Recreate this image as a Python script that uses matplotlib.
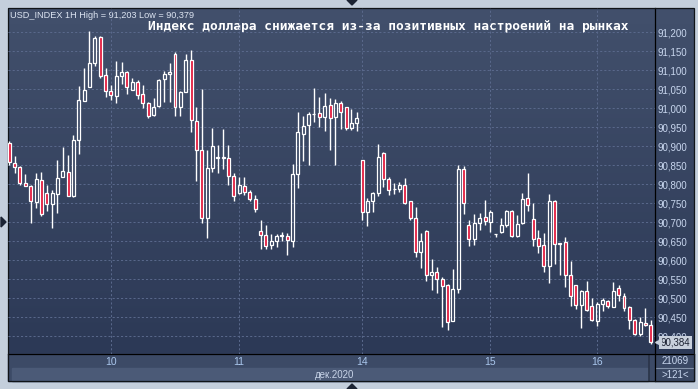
import numpy as np
import matplotlib
matplotlib.use("Agg")
from matplotlib import pyplot as plt
from matplotlib.patches import Rectangle, Polygon

plt.rcParams['lines.scale_dashes'] = False

W, H = 698, 389

# hourly candles, USD_INDEX 1H
opens = [90909, 90856, 90846, 90804, 90796, 90753, 90812, 90778, 90749, 90775,
         90820, 90833, 90769, 90917, 91019, 91056, 91118, 91187, 91087, 91046,
         91032, 91085, 91095, 91049, 91070, 91037, 91014, 90982, 91005, 91077,
         91090, 91143, 91003, 91044, 91126, 90966, 90891, 90711, 90843, 90868,
         90873, 90869, 90821, 90776, 90795, 90779, 90761, 90677, 90666, 90640,
         90651, 90665, 90665, 90652, 90827, 90932, 90955, 90984, 90987, 90976,
         91009, 90976, 91013, 91003, 90949, 90961, 90863, 90727, 90755, 90776,
         90883, 90814, 90788, 90787, 90798, 90755, 90711, 90622, 90677, 90560,
         90570, 90552, 90536, 90440, 90524, 90839, 90693, 90655, 90697, 90713,
         90702, 90668, 90674, 90692, 90729, 90664, 90697, 90764, 90708, 90659,
         90639, 90584, 90756, 90645, 90648, 90562, 90534, 90482, 90520, 90480,
         90441, 90486, 90493, 90477, 90528, 90507, 90478, 90443, 90407, 90436,
         90430]
highs = [90915, 90874, 90848, 90826, 90798, 90830, 90833, 90799, 90786, 90863,
         90897, 90876, 90931, 91058, 91105, 91203, 91190, 91189, 91106, 91060,
         91124, 91122, 91097, 91081, 91075, 91061, 91017, 91027, 91076, 91098,
         91119, 91147, 91046, 91144, 91154, 91003, 91050, 90891, 90947, 90903,
         90946, 90904, 90829, 90819, 90819, 90786, 90771, 90707, 90693, 90670,
         90670, 90674, 90673, 90854, 90989, 90980, 90990, 91053, 91030, 91039,
         91026, 91025, 91018, 91004, 90998, 90989, 90864, 90763, 90779, 90906,
         90886, 90819, 90803, 90805, 90816, 90756, 90741, 90672, 90679, 90604,
         90583, 90556, 90538, 90578, 90851, 90847, 90705, 90723, 90725, 90759,
         90733, 90669, 90711, 90733, 90733, 90719, 90778, 90830, 90751, 90681,
         90672, 90775, 90758, 90646, 90660, 90599, 90536, 90521, 90546, 90502,
         90489, 90501, 90495, 90544, 90536, 90513, 90480, 90446, 90450, 90475,
         90443]
lows = [90850, 90830, 90798, 90795, 90698, 90738, 90717, 90730, 90685, 90724,
        90818, 90768, 90766, 90881, 91018, 91055, 91110, 91081, 91029, 91022,
        91015, 91064, 91037, 91048, 91025, 91002, 90974, 90979, 91003, 91016,
        91017, 90979, 90979, 91042, 90937, 90808, 90699, 90659, 90832, 90830,
        90839, 90799, 90755, 90774, 90772, 90755, 90726, 90631, 90630, 90631,
        90635, 90650, 90613, 90634, 90789, 90860, 90852, 90963, 90952, 90941,
        90889, 90852, 90946, 90943, 90943, 90941, 90705, 90689, 90726, 90770,
        90792, 90771, 90774, 90779, 90748, 90705, 90609, 90581, 90546, 90523,
        90514, 90425, 90416, 90439, 90514, 90722, 90637, 90641, 90681, 90694,
        90674, 90660, 90673, 90688, 90662, 90662, 90695, 90730, 90637, 90618,
        90570, 90539, 90589, 90561, 90529, 90480, 90472, 90422, 90467, 90441,
        90427, 90466, 90475, 90476, 90492, 90466, 90420, 90403, 90401, 90427,
        90379]
closes = [90858, 90846, 90804, 90796, 90756, 90814, 90722, 90749, 90778, 90817,
          90835, 90770, 90917, 91023, 91048, 91119, 91184, 91084, 91045, 91035,
          91085, 91095, 91056, 91070, 91035, 91014, 90979, 91003, 91074, 91090,
          91095, 91003, 91044, 91126, 90970, 90891, 90710, 90843, 90901, 90873,
          90868, 90821, 90769, 90798, 90779, 90761, 90735, 90666, 90638, 90650,
          90665, 90666, 90654, 90827, 90937, 90953, 90984, 90986, 90976, 91005,
          90974, 91013, 90991, 90949, 90962, 90974, 90727, 90757, 90777, 90871,
          90814, 90785, 90787, 90798, 90752, 90711, 90622, 90651, 90560, 90569,
          90550, 90532, 90438, 90524, 90839, 90750, 90655, 90698, 90712, 90703,
          90727, 90668, 90692, 90730, 90664, 90695, 90761, 90745, 90657, 90638,
          90584, 90756, 90643, 90644, 90562, 90507, 90482, 90520, 90469, 90443,
          90486, 90495, 90479, 90520, 90509, 90474, 90443, 90407, 90437, 90430,
          90384]

day_idx = [19, 43, 66, 90, 110]
day_labels = ["10", "11", "14", "15", "16"]
price_ticks = list(range(90400, 91201, 50))
title = "USD_INDEX 1H High = 91,203 Low = 90,379"
headline = "Индекс доллара снижается из-за позитивных настроений на рынках"
month_label = "дек.2020"
last_price = 90384

fig = plt.figure(figsize=(W / 100, H / 100), dpi=100)
fig.patch.set_facecolor("#c4cfdc")

# background layer in pixel coordinates
bg = fig.add_axes([0, 0, 1, 1])
bg.set_xlim(0, W)
bg.set_ylim(H, 0)
bg.axis("off")

top = np.array([66, 80, 108]) / 255
bot = np.array([44, 57, 86]) / 255
t = np.linspace(0, 1, 256)[:, None, None]
grad = top + (bot - top) * t
bg.imshow(grad, extent=(8, 694, 354, 8), aspect="auto", zorder=0)

bg.add_patch(Rectangle((8, 354), 686, 27, color="#3c4a66", zorder=1))
bg.add_patch(Rectangle((12, 368), 636, 13, color="#4b5a77", zorder=1))
bg.add_patch(Rectangle((655, 354), 39, 27, color="#3a4864", zorder=1))
bg.plot([655, 694], [368, 368], color="#8392aa", lw=0.8, zorder=2)
bg.plot([649, 649], [355, 381], color="#2a3448", lw=1.2, zorder=2)
bg.plot([655, 655], [8, 381], color="black", lw=0.9, zorder=3)
bg.plot([8, 694], [354, 354], color="black", lw=0.9, zorder=3)
bg.add_patch(Rectangle((8, 8), 686, 373, fill=False, ec="#101418", lw=0.9, zorder=3))

# little navigation triangles
for pts in ([[347, 0], [357, 0], [352, 5]],
            [[347, 389], [357, 389], [352, 384]],
            [[1, 217], [1, 227], [6, 222]]):
    bg.add_patch(Polygon(pts, closed=True, color="#1b2333", zorder=3))

bg.text(10, 15, title, fontsize=6.6, family="Liberation Sans", color="#dde5f2",
        va="center", ha="left", zorder=4)
bg.text(148, 26, headline, fontsize=9.3, family="DejaVu Sans Mono", weight="bold",
        color="white", va="center", ha="left", zorder=4)
bg.text(335, 374.5, month_label, fontsize=7, family="Liberation Sans",
        color="#c8d4e8", va="center", ha="center", zorder=4)
bg.text(675, 361.5, "21069", fontsize=7, family="Liberation Sans",
        color="#c8d6ee", va="center", ha="center", zorder=4)
bg.text(675, 374.5, ">121<", fontsize=7, family="Liberation Sans",
        color="#c8d6ee", va="center", ha="center", zorder=4)

# candles
ax = fig.add_axes([8 / W, (H - 354) / H, (655 - 8) / W, (354 - 8) / H])
ax.patch.set_alpha(0)
ax.set_xlim(-0.243, 120.8)
ax.set_ylim(90353.4, 91263.9)
for s in ax.spines.values():
    s.set_visible(False)

grid_kw = dict(color="#5a698c", lw=0.7, linestyle=(0, (1.5, 1.5)), zorder=1)
for p in price_ticks:
    ax.axhline(p, **grid_kw)
for d in day_idx:
    ax.axvline(d, **grid_kw)

red = "#e2163a"
bw = 0.56
for i, (o, hi, lo, c) in enumerate(zip(opens, highs, lows, closes)):
    btop, bbot = max(o, c), min(o, c)
    ax.vlines(i, btop, hi, color="white", lw=1.0, zorder=2)
    ax.vlines(i, lo, bbot, color="white", lw=1.0, zorder=2)
    hgt = max(btop - bbot, 1)
    fc = red if c < o else "none"
    ax.add_patch(Rectangle((i - bw / 2, bbot), bw, hgt, fc=fc, ec="white",
                           lw=0.9, zorder=3))

ax.set_xticks(day_idx)
ax.set_xticklabels(day_labels)
ax.tick_params(axis="x", length=0, pad=2.5, labelsize=7.5, labelcolor="#a9c6ec")
ax.yaxis.tick_right()
ax.set_yticks(price_ticks)
ax.set_yticklabels([f"{p:,}" for p in price_ticks])
ax.tick_params(axis="y", length=0, pad=2, labelsize=7, labelcolor="#c8d6ee")
for lab in ax.get_xticklabels() + ax.get_yticklabels():
    lab.set_family("Liberation Sans")

# last price marker
ax.annotate(f"{last_price:,}", xy=(1, last_price), xycoords=("axes fraction", "data"),
            xytext=(4, 0), textcoords="offset points", ha="left", va="center",
            fontsize=7, family="Liberation Sans", color="#1a2030",
            bbox=dict(boxstyle="square,pad=0.15", fc="#c8d0dc", ec="none"), zorder=6)
ax.plot([1.004], [last_price], marker="<", ms=4, color="#c8d0dc",
        transform=ax.get_yaxis_transform(), clip_on=False, zorder=6)

plt.savefig("out.png", dpi=100)
